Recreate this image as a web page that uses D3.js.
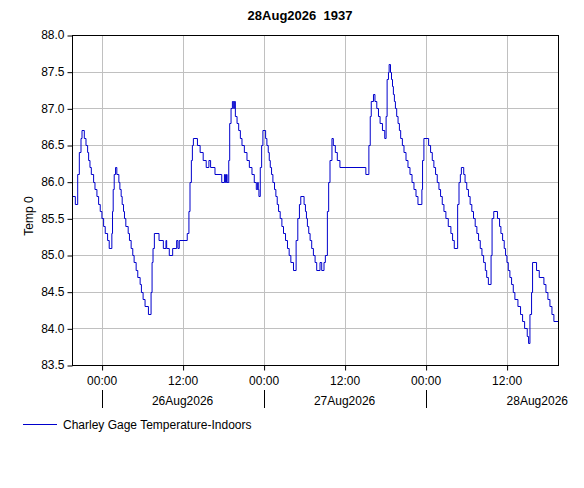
<!DOCTYPE html>
<html>
<head>
<meta charset="utf-8">
<script src="https://cdn.jsdelivr.net/npm/d3@7"></script>
<style>
  body { margin: 0; background: #fff; }
  text { font-family: Arial, "Liberation Sans", sans-serif; }
</style>
</head>
<body>
<div id="chart"></div>
<script>
// hours after 26Aug2026 00:00, and the reading at that time (held until the next one)
var hours = [
  -4.38, -3.89, -3.54, -3.30, -3.05, -2.90, -2.56, -2.31, -2.07, -1.92,
  -1.72, -1.52, -1.18, -0.98, -0.69, -0.44, -0.20, 0.05, 0.30, 0.54,
  0.89, 1.13, 1.52, 1.62, 1.72, 1.87, 2.07, 2.26, 2.56, 2.71,
  2.90, 3.05, 3.25, 3.39, 3.59, 3.94, 4.13, 4.38, 4.62, 4.82,
  5.12, 5.36, 5.71, 5.90, 6.15, 6.44, 6.94, 7.33, 7.48, 7.62,
  7.82, 8.51, 9.15, 9.54, 9.64, 10.03, 10.53, 11.12, 11.31, 11.51,
  12.69, 12.94, 13.10, 13.30, 13.45, 13.60, 14.20, 14.60, 15.05, 15.50,
  15.90, 16.15, 16.80, 17.80, 18.20, 18.35, 18.50, 18.60, 18.84, 18.98,
  19.18, 19.38, 19.57, 19.67, 19.82, 20.07, 20.31, 20.56, 20.80, 21.15,
  21.54, 21.89, 22.28, 22.62, 22.92, 23.12, 23.21, 23.31, 23.51, 23.71,
  23.90, 24.30, 24.49, 24.69, 24.84, 24.99, 25.18, 25.38, 25.62, 25.82,
  26.02, 26.22, 26.46, 26.71, 26.95, 27.25, 27.54, 27.79, 28.04, 28.43,
  28.82, 29.07, 29.31, 29.51, 30.00, 30.20, 30.35, 30.49, 30.69, 30.89,
  31.13, 31.38, 31.63, 31.87, 32.36, 32.61, 32.95, 33.15, 33.45, 33.64,
  33.84, 34.13, 34.33, 34.63, 34.92, 35.31, 39.15, 39.60, 39.80, 39.95,
  40.28, 40.50, 40.77, 41.02, 41.26, 41.61, 41.95, 42.15, 42.30, 42.50,
  42.60, 42.80, 42.95, 43.10, 43.23, 43.38, 43.53, 43.72, 43.92, 44.12,
  44.31, 44.56, 44.80, 45.10, 45.39, 45.69, 45.99, 46.28, 46.58, 46.87,
  47.45, 47.55, 47.75, 48.45, 48.74, 48.99, 49.23, 49.48, 49.73, 49.98,
  50.22, 50.47, 50.72, 51.01, 51.36, 51.75, 52.00, 52.25, 52.75, 52.95,
  53.15, 53.30, 53.65, 53.85, 54.10, 54.35, 54.60, 54.85, 55.10, 55.35,
  55.60, 55.85, 56.10, 56.35, 56.60, 56.85, 57.05, 57.30, 57.70, 57.85,
  58.10, 58.65, 58.96, 59.16, 59.41, 59.65, 59.85, 60.05, 60.25, 60.49,
  60.74, 60.99, 61.23, 61.68, 62.07, 62.37, 62.67, 63.06, 63.26, 63.46,
  63.70, 63.85, 64.44, 64.84, 65.53, 65.83, 66.12, 66.42, 66.72, 67.01,
  67.62
];
var temps = [
  85.8, 85.7, 86.1, 86.4, 86.6, 86.7, 86.6, 86.5, 86.4, 86.3,
  86.2, 86.1, 86.0, 85.9, 85.8, 85.7, 85.6, 85.5, 85.4, 85.3,
  85.2, 85.1, 85.3, 85.6, 85.9, 86.1, 86.2, 86.1, 86.0, 85.9,
  85.8, 85.7, 85.6, 85.5, 85.4, 85.3, 85.2, 85.1, 85.0, 84.9,
  84.8, 84.7, 84.6, 84.5, 84.4, 84.3, 84.2, 84.5, 84.9, 85.1,
  85.3, 85.2, 85.1, 85.2, 85.1, 85.0, 85.1, 85.2, 85.1, 85.2,
  85.3, 85.6, 86.0, 86.3, 86.5, 86.6, 86.5, 86.4, 86.3, 86.2,
  86.3, 86.2, 86.1, 86.0, 86.1, 86.0, 86.1, 86.0, 86.3, 86.8,
  87.0, 87.1, 87.0, 87.1, 86.9, 86.8, 86.7, 86.6, 86.5, 86.4,
  86.3, 86.2, 86.1, 86.0, 85.9, 86.0, 85.9, 85.8, 86.2, 86.5,
  86.7, 86.6, 86.5, 86.4, 86.3, 86.2, 86.1, 86.0, 85.9, 85.8,
  85.7, 85.6, 85.5, 85.4, 85.3, 85.2, 85.1, 85.0, 84.9, 84.8,
  85.2, 85.5, 85.7, 85.8, 85.7, 85.6, 85.5, 85.4, 85.3, 85.2,
  85.1, 85.0, 84.9, 84.8, 84.9, 84.8, 84.9, 85.0, 85.6, 86.0,
  86.3, 86.6, 86.5, 86.4, 86.3, 86.2, 86.1, 86.5, 86.9, 87.1,
  87.2, 87.1, 87.0, 86.9, 86.8, 86.7, 86.6, 86.9, 87.4, 87.5,
  87.6, 87.5, 87.4, 87.3, 87.2, 87.1, 87.0, 86.9, 86.8, 86.7,
  86.6, 86.5, 86.4, 86.3, 86.2, 86.1, 86.0, 85.9, 85.8, 85.7,
  85.9, 86.3, 86.6, 86.5, 86.4, 86.3, 86.2, 86.1, 86.0, 85.9,
  85.8, 85.7, 85.6, 85.5, 85.4, 85.3, 85.2, 85.1, 85.7, 86.0,
  86.1, 86.2, 86.1, 86.0, 85.9, 85.8, 85.7, 85.6, 85.5, 85.4,
  85.3, 85.2, 85.1, 85.0, 84.9, 84.8, 84.7, 84.6, 85.0, 85.5,
  85.6, 85.5, 85.4, 85.3, 85.2, 85.1, 85.0, 84.9, 84.8, 84.7,
  84.6, 84.5, 84.4, 84.3, 84.2, 84.1, 84.0, 83.9, 83.8, 84.2,
  84.5, 84.9, 84.8, 84.7, 84.6, 84.5, 84.4, 84.3, 84.2, 84.1,
  84.1
];
var yTicks = [83.5, 84.0, 84.5, 85.0, 85.5, 86.0, 86.5, 87.0, 87.5, 88.0];
var title = "28Aug2026  1937";
var yLabel = "Temp 0";
var seriesName = "Charley Gage Temperature-Indoors";

var W = 584, H = 488;
var margin = {top: 35, right: 26, bottom: 123, left: 72},
    width = W - margin.left - margin.right,
    height = H - margin.top - margin.bottom;

var base = new Date(2026, 7, 26, 0, 0);
var t0 = new Date(2026, 7, 25, 19, 37), t1 = new Date(2026, 7, 28, 19, 37);
var data = hours.map(function(h, i) {
  return {date: new Date(base.getTime() + h * 3600000), v: temps[i]};
});
data.push({date: t1, v: temps[temps.length - 1]});

var svg = d3.select("#chart")
  .append("svg")
    .attr("width", W)
    .attr("height", H);

var g = svg.append("g")
    .attr("transform", "translate(" + margin.left + "," + margin.top + ")");

var x = d3.scaleTime().domain([t0, t1]).range([0, width]);
var y = d3.scaleLinear().domain([83.5, 88.0]).range([height, 0]);

var hourTicks = x.ticks(d3.timeHour.every(12));
var midnights = hourTicks.filter(function(d) { return d.getHours() == 0; });

// grid
g.append("g").selectAll("line.vg")
  .data(hourTicks).enter().append("line")
    .attr("x1", function(d) { return Math.round(x(d)) + 0.5; })
    .attr("x2", function(d) { return Math.round(x(d)) + 0.5; })
    .attr("y1", 0).attr("y2", height)
    .attr("stroke", "#c0c0c0");
g.append("g").selectAll("line.hg")
  .data(yTicks).enter().append("line")
    .attr("x1", 0).attr("x2", width)
    .attr("y1", function(d) { return Math.round(y(d)) + 0.5; })
    .attr("y2", function(d) { return Math.round(y(d)) + 0.5; })
    .attr("stroke", "#c0c0c0");

// data line
var line = d3.line()
  .curve(d3.curveStepAfter)
  .x(function(d) { return x(d.date); })
  .y(function(d) { return Math.round(y(d.v)) + 0.5; });

g.append("path")
  .datum(data)
  .attr("fill", "none")
  .attr("stroke", "#0000cc")
  .attr("stroke-width", 1)
  .attr("d", line);

// frame
g.append("rect")
  .attr("x", 0.5).attr("y", 0.5)
  .attr("width", width).attr("height", height)
  .attr("fill", "none").attr("stroke", "#000");

// y axis
var yAxis = g.append("g")
  .attr("transform", "translate(0.5,0)")
  .call(d3.axisLeft(y).tickValues(yTicks).tickFormat(d3.format(".1f")).tickSize(5).tickPadding(3));
yAxis.select(".domain").remove();
yAxis.selectAll("text").attr("font-size", 12).attr("fill", "#000")
  .attr("font-family", "Arial, 'Liberation Sans', sans-serif");
yAxis.selectAll("line").attr("stroke", "#000")
  .attr("transform", function() { return "translate(0,0.5)"; });

// x axis, hours
var xAxis = g.append("g")
  .attr("transform", "translate(0," + (height + 0.5) + ")")
  .call(d3.axisBottom(x).tickValues(hourTicks).tickFormat(d3.timeFormat("%H:%M")).tickSize(5).tickPadding(6));
xAxis.select(".domain").remove();
xAxis.selectAll("text").attr("font-size", 12).attr("fill", "#000")
  .attr("font-family", "Arial, 'Liberation Sans', sans-serif");
xAxis.selectAll("line").attr("stroke", "#000")
  .attr("transform", "translate(0.5,0)");

// x axis, days
var dayG = g.append("g").attr("transform", "translate(0," + height + ")");
dayG.selectAll("line")
  .data(midnights).enter().append("line")
    .attr("x1", function(d) { return Math.round(x(d)) + 0.5; })
    .attr("x2", function(d) { return Math.round(x(d)) + 0.5; })
    .attr("y1", 25).attr("y2", 43)
    .attr("stroke", "#000");
var noons = hourTicks.filter(function(d) { return d.getHours() == 12; });
dayG.selectAll("text.day")
  .data(noons).enter().append("text")
    .attr("x", function(d, i) { return x(d); })
    .attr("y", 40)
    .attr("text-anchor", function(d, i) { return i == noons.length - 1 ? "start" : "middle"; })
    .attr("font-size", 12)
    .text(d3.timeFormat("%d%b%Y"));

// title
svg.append("text")
  .attr("x", 300)
  .attr("y", 20)
  .attr("text-anchor", "middle")
  .attr("font-size", 13)
  .attr("font-weight", "bold")
  .style("white-space", "pre")
  .text(title);

// y label
svg.append("text")
  .attr("transform", "translate(33," + (margin.top + height / 2 + 16) + ") rotate(-90)")
  .attr("text-anchor", "middle")
  .attr("font-size", 12)
  .text(yLabel);

// legend
svg.append("line")
  .attr("x1", 23).attr("x2", 57)
  .attr("y1", 424.5).attr("y2", 424.5)
  .attr("stroke", "#0000cc");
svg.append("text")
  .attr("x", 63).attr("y", 429)
  .attr("font-size", 12)
  .text(seriesName);
</script>
</body>
</html>
